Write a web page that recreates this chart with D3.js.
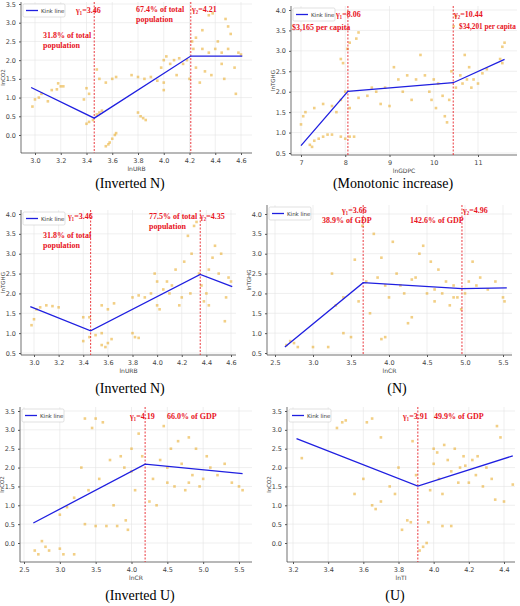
<!DOCTYPE html>
<html><head><meta charset="utf-8">
<script src="https://cdn.jsdelivr.net/npm/d3@7"></script>
<style>body{margin:0;background:#fff}</style></head>
<body><svg id="c" width="520" height="606"></svg>
<script>
// ---- data ----
const pointsA=[[2.98,0.76],[3.0,0.95],[3.03,1.0],[3.05,1.1],[3.1,0.9],[3.13,1.2],[3.17,1.22],[3.2,1.3],[3.18,1.38],[3.22,1.3],[3.38,0.95],[3.4,1.25],[3.42,1.1],[3.4,0.3],[3.42,0.35],[3.45,0.4],[3.48,0.55],[3.5,0.6],[3.52,0.65],[3.48,1.75],[3.5,1.5],[3.55,1.4],[3.6,1.5],[3.63,1.55],[3.55,-0.3],[3.57,-0.25],[3.58,-0.2],[3.6,-0.1],[3.62,0.0],[3.63,0.05],[3.8,0.6],[3.82,0.5],[3.84,0.45],[3.86,0.4],[3.75,1.6],[3.8,1.55],[3.85,1.5],[3.9,1.55],[3.95,1.45],[3.98,1.8],[4.0,2.0],[4.0,1.2],[4.0,1.4],[4.02,2.1],[4.05,1.9],[4.08,2.0],[4.1,1.6],[4.12,2.05],[4.15,1.9],[4.18,2.0],[4.2,1.5],[4.22,2.5],[4.23,2.3],[4.25,1.8],[4.28,1.4],[4.3,2.3],[4.32,1.7],[4.35,2.2],[4.35,3.2],[4.37,1.6],[4.38,3.25],[4.4,2.3],[4.42,2.5],[4.45,2.2],[4.47,1.5],[4.48,3.1],[4.5,2.9],[4.5,2.3],[4.52,2.7],[4.55,1.8],[4.56,1.1],[4.58,2.2],[4.6,2.15],[4.3,2.8],[4.25,2.6],[4.45,1.9]];
const pointsB=[[7.0,1.2],[7.05,1.4],[7.1,1.5],[7.2,0.7],[7.25,0.65],[7.3,0.8],[7.4,0.85],[7.5,0.9],[7.6,0.95],[7.7,0.95],[7.9,0.9],[8.0,0.85],[8.1,0.9],[8.2,0.9],[7.3,1.6],[7.5,1.7],[7.7,1.65],[7.8,1.5],[7.9,1.8],[8.0,2.0],[7.9,2.8],[7.95,2.7],[8.05,3.05],[8.1,3.2],[8.25,3.3],[8.3,3.45],[8.1,1.6],[8.3,1.85],[8.5,1.9],[8.6,2.1],[8.7,2.0],[8.8,1.7],[8.9,2.1],[9.0,1.65],[9.1,2.6],[9.2,2.3],[9.3,2.0],[9.4,2.4],[9.5,1.8],[9.6,2.3],[9.7,2.9],[9.8,2.4],[9.9,2.0],[9.95,1.8],[10.0,2.3],[10.05,1.6],[10.1,2.2],[10.2,1.9],[10.25,1.4],[10.3,1.25],[10.35,1.8],[10.4,2.5],[10.45,3.6],[10.5,3.85],[10.5,2.1],[10.6,2.4],[10.65,2.2],[10.7,2.9],[10.75,2.3],[10.8,2.6],[10.85,2.1],[10.9,2.3],[11.0,2.2],[11.1,2.45],[11.2,2.55],[11.5,2.8],[11.55,3.1],[11.6,3.2],[11.55,2.7]];
const pointsC=[[2.98,1.2],[3.0,1.35],[3.02,1.6],[3.05,1.65],[3.1,1.7],[3.15,1.68],[3.2,1.65],[3.4,1.4],[3.45,1.4],[3.4,0.8],[3.45,0.9],[3.5,0.95],[3.55,1.0],[3.55,0.7],[3.58,0.65],[3.6,0.75],[3.63,0.85],[3.55,1.7],[3.6,1.6],[3.65,1.75],[3.8,1.0],[3.82,0.9],[3.85,0.88],[3.8,1.9],[3.85,1.95],[3.9,1.9],[3.95,2.0],[3.98,2.5],[4.0,2.3],[4.0,1.7],[4.02,1.6],[4.05,2.1],[4.08,2.3],[4.1,2.0],[4.12,2.2],[4.15,2.6],[4.18,1.7],[4.2,1.9],[4.22,2.8],[4.25,3.45],[4.27,2.0],[4.28,3.0],[4.3,3.7],[4.32,3.8],[4.34,2.5],[4.36,2.2],[4.38,1.8],[4.4,2.0],[4.42,2.6],[4.45,2.9],[4.47,3.2],[4.5,2.5],[4.52,3.0],[4.55,1.3],[4.56,1.9],[4.58,2.4],[4.6,2.3],[4.42,1.7]];
const pointsD=[[2.65,0.7],[2.7,0.8],[2.75,0.75],[2.8,0.65],[3.0,0.65],[3.2,0.65],[3.25,2.5],[3.3,1.7],[3.4,1.9],[3.4,1.0],[3.5,0.9],[3.55,2.85],[3.6,1.8],[3.65,3.7],[3.7,2.3],[3.75,1.5],[3.8,3.5],[3.85,2.4],[3.9,2.9],[3.9,0.85],[3.95,0.9],[4.0,1.9],[4.05,3.3],[4.1,2.5],[4.15,2.2],[4.2,2.0],[4.25,1.25],[4.3,1.4],[4.35,2.4],[4.4,3.0],[4.45,3.2],[4.5,2.0],[4.55,2.8],[4.6,1.8],[4.65,2.6],[4.7,2.0],[4.75,2.3],[4.8,1.7],[4.85,2.2],[4.9,1.9],[4.95,1.6],[5.0,2.0],[5.05,2.3],[5.1,2.8],[5.15,2.2],[5.2,2.4],[5.3,2.1],[5.4,2.3],[5.5,1.9],[5.52,1.8],[3.95,2.2],[4.3,2.35],[4.6,2.1],[4.85,1.9]];
const pointsE=[[2.65,-0.2],[2.7,-0.3],[2.75,0.05],[2.8,-0.1],[2.85,-0.2],[3.0,-0.15],[3.05,-0.3],[3.2,-0.3],[3.0,0.75],[3.1,0.95],[3.2,1.2],[3.3,2.0],[3.35,3.3],[3.35,0.5],[3.4,1.4],[3.45,3.05],[3.5,3.3],[3.5,0.45],[3.55,1.7],[3.6,3.2],[3.65,0.45],[3.7,2.2],[3.75,1.0],[3.8,0.45],[3.85,2.3],[3.9,2.0],[3.92,0.6],[3.95,0.35],[4.0,2.5],[4.05,1.4],[4.1,2.9],[4.15,2.3],[4.25,1.1],[4.3,1.7],[4.35,1.0],[4.4,2.2],[4.45,3.1],[4.5,1.6],[4.55,2.5],[4.6,1.5],[4.65,2.7],[4.7,2.1],[4.75,1.4],[4.8,2.8],[4.85,1.8],[4.9,2.5],[4.95,1.5],[5.0,1.7],[5.05,2.3],[5.1,2.0],[5.2,1.8],[5.3,2.1],[5.4,1.6],[5.5,1.5],[5.55,1.4],[4.0,1.9],[4.5,2.0],[4.8,1.6]];
const pointsF=[[3.25,2.25],[3.45,3.05],[3.48,3.2],[3.5,3.25],[3.55,1.3],[3.6,1.7],[3.62,3.2],[3.65,3.3],[3.65,1.0],[3.67,0.9],[3.7,1.1],[3.7,2.8],[3.75,1.5],[3.78,1.3],[3.8,2.0],[3.82,0.35],[3.85,0.6],[3.87,0.55],[3.88,2.7],[3.9,1.8],[3.92,-0.2],[3.94,-0.1],[3.96,0.0],[3.97,0.55],[3.98,1.4],[4.0,2.1],[4.02,2.4],[4.03,1.7],[4.05,0.45],[4.06,2.6],[4.08,2.2],[4.1,0.45],[4.1,1.9],[4.12,2.5],[4.14,1.6],[4.15,2.0],[4.17,2.3],[4.2,1.6],[4.22,2.2],[4.24,1.8],[4.25,2.3],[4.28,1.5],[4.3,2.0],[4.33,1.7],[4.35,1.15],[4.36,3.1],[4.38,2.8],[4.4,1.1],[4.45,1.55],[4.0,2.5],[4.18,2.05],[4.05,1.3]];
const kinkA=[[2.97,1.27],[3.46,0.45],[4.21,2.11],[4.61,2.11]];
const kinkB=[[7,0.68],[8.06,2.01],[10.44,2.22],[11.6,2.79]];
const kinkC=[[2.97,1.67],[3.46,1.06],[4.35,2.48],[4.61,2.17]];
const kinkD=[[2.63,0.65],[3.66,2.27],[4.96,2.12],[5.55,2.14]];
const kinkE=[[2.63,0.53],[4.19,2.09],[5.55,1.84]];
const kinkF=[[3.22,2.77],[3.91,1.51],[4.45,2.31]];
const thresholdsA=[3.46,4.21], thresholdsB=[8.06,10.44], thresholdsC=[3.46,4.35], thresholdsD=[3.66,4.96], thresholdsE=[4.19], thresholdsF=[3.91];
const ticksXA=[3.0,3.2,3.4,3.6,3.8,4.0,4.2,4.4,4.6], ticksXB=[7,8,9,10,11], ticksXD=[2.5,3.0,3.5,4.0,4.5,5.0,5.5], ticksXF=[3.2,3.4,3.6,3.8,4.0,4.2,4.4];
const ticksYCO2=[0.0,0.5,1.0,1.5,2.0,2.5,3.0,3.5], ticksYTGHG=[0.5,1.0,1.5,2.0,2.5,3.0,3.5,4.0];
const captions=["(Inverted N)","(Monotonic increase)","(Inverted N)","(N)","(Inverted U)","(U)"];

// ---- layout ----
const panels=[
 {pts:pointsA,kink:kinkA,thr:thresholdsA,tx:ticksXA,ty:ticksYCO2,xl:"lnURB",yl:"lnCO2",fmt:".1f",
  px:[21,252],py:[2,153],xd:[3.0,4.6],xr:[35,241],yd:[0,3.5],yr:[135,4],cap:[130,188],
  notes:[[76,13,"γ₁=3.46",8],[43,38,"31.8%  of  total",8],[43,48,"population",8],[136,12,"67.4%  of  total",8],[136,22,"population",8],[192,12,"γ₂=4.21",8]]},
 {pts:pointsB,kink:kinkB,thr:thresholdsB,tx:ticksXB,ty:ticksYTGHG,xl:"lnGDPC",yl:"lnTGHG",fmt:"d",
  px:[291,517],py:[6,155],xd:[7,11],xr:[301,478],yd:[0.5,4.0],yr:[153,10],cap:[393,188],
  notes:[[336,17,"γ₁=8.06",8],[292,30,"$3,165 per capita",8],[454,17,"γ₂=10.44",8],[459,29,"$34,201 per capita",7.3]]},
 {pts:pointsC,kink:kinkC,thr:thresholdsC,tx:ticksXA,ty:ticksYTGHG,xl:"lnURB",yl:"lnTGHG",fmt:".1f",
  px:[21,236],py:[210,355],xd:[3.0,4.6],xr:[34,231],yd:[0.5,4.0],yr:[353,214],cap:[130,393],
  notes:[[68,219,"γ₁=3.46",8],[43,238,"31.8%  of  total",8],[43,248,"population",8],[149,219,"77.5%  of  total",8],[149,229,"population",8],[200,219,"γ₂=4.35",8]]},
 {pts:pointsD,kink:kinkD,thr:thresholdsD,tx:ticksXD,ty:ticksYTGHG,xl:"lnCR",yl:"lnTGHG",fmt:".1f",
  px:[267,512],py:[205,355],xd:[2.5,5.5],xr:[275,503],yd:[0.5,4.0],yr:[353,214],cap:[397,393],
  notes:[[342,213,"γ₁=3.66",8],[322,223,"38.9% of GDP",8],[410,223,"142.6% of GDP",8],[463,213,"γ₂=4.96",8]]},
 {pts:pointsE,kink:kinkE,thr:thresholdsE,tx:ticksXD,ty:ticksYCO2,xl:"lnCR",yl:"lnCO2",fmt:".1f",
  px:[20,252],py:[407,562],xd:[2.5,5.5],xr:[24,239],yd:[0,3.5],yr:[543,411],cap:[140,600],
  notes:[[130,419,"γ₁=4.19",8],[167,419,"66.0% of GDP",8]]},
 {pts:pointsF,kink:kinkF,thr:thresholdsF,tx:ticksXF,ty:ticksYCO2,xl:"lnTI",yl:"lnCO2",fmt:".1f",
  px:[287,515],py:[407,562],xd:[3.2,4.4],xr:[293,504],yd:[0,3.5],yr:[543,411],cap:[395,600],
  notes:[[403,419,"γ₁=3.91",8],[434,419,"49.9% of GDP",8]]}
];

const svg=d3.select("#c");
panels.forEach((p,i)=>{
  const x=d3.scaleLinear().domain(p.xd).range(p.xr);
  const y=d3.scaleLinear().domain(p.yd).range(p.yr);
  const g=svg.append("g");
  const clip="clip"+i;
  svg.append("clipPath").attr("id",clip).append("rect").attr("x",p.px[0]).attr("y",p.py[0]).attr("width",p.px[1]-p.px[0]).attr("height",p.py[1]-p.py[0]);
  g.selectAll(".gx").data(p.tx).join("line").attr("x1",d=>x(d)).attr("x2",d=>x(d)).attr("y1",p.py[0]).attr("y2",p.py[1]).attr("stroke","#e4e4e4").attr("stroke-width",0.6);
  g.selectAll(".gy").data(p.ty).join("line").attr("y1",d=>y(d)).attr("y2",d=>y(d)).attr("x1",p.px[0]).attr("x2",p.px[1]).attr("stroke","#e4e4e4").attr("stroke-width",0.6);
  const xa=g.append("g").attr("transform",`translate(0,${p.py[1]})`).call(d3.axisBottom(x).tickValues(p.tx).tickFormat(d3.format(p.fmt)).tickSize(2).tickSizeOuter(0));
  const ya=g.append("g").attr("transform",`translate(${p.px[0]},0)`).call(d3.axisLeft(y).tickValues(p.ty).tickFormat(d3.format(".1f")).tickSize(2).tickSizeOuter(0));
  [xa,ya].forEach(a=>{a.selectAll("text").attr("font-family","DejaVu Sans").attr("font-size",6.5).attr("fill","#444");a.select(".domain").attr("stroke","#333").attr("stroke-width",0.7);a.selectAll(".tick line").attr("stroke","#555");});
  xa.select(".domain").attr("d",`M${p.px[0]},0H${p.px[1]}`);
  ya.select(".domain").attr("d",`M0,${p.py[0]}V${p.py[1]}`);
  g.append("text").attr("x",(p.px[0]+p.px[1])/2).attr("y",p.py[1]+18).attr("text-anchor","middle").attr("font-family","DejaVu Sans").attr("font-size",6).attr("fill","#444").text(p.xl);
  g.append("text").attr("transform",`translate(${p.px[0]-16.5},${(p.py[0]+p.py[1])/2}) rotate(-90)`).attr("text-anchor","middle").attr("font-family","DejaVu Sans").attr("font-size",5.5).attr("fill","#444").text(p.yl);
  const inner=g.append("g").attr("clip-path",`url(#${clip})`);
  inner.selectAll("rect.pt").data(p.pts).join("rect").attr("x",d=>x(d[0])-1.3).attr("y",d=>y(d[1])-1.3).attr("width",2.6).attr("height",2.6).attr("fill","#e8a820").attr("opacity",0.55);
  inner.selectAll("line.th").data(p.thr).join("line").attr("x1",d=>x(d)).attr("x2",d=>x(d)).attr("y1",p.py[0]).attr("y2",p.py[1]).attr("stroke","#e8242a").attr("stroke-width",0.9).attr("stroke-dasharray","2,1.5");
  inner.append("path").datum(p.kink).attr("d",d3.line().x(d=>x(d[0])).y(d=>y(d[1]))).attr("fill","none").attr("stroke","#1f1fe0").attr("stroke-width",1.3);
  p.notes.forEach(n=>g.append("text").attr("x",n[0]).attr("y",n[1]).attr("font-family","Liberation Serif").attr("font-weight","bold").attr("font-size",n[3]).attr("fill","#e8141e").text(n[2]));
  const lg=g.append("g").attr("transform",`translate(${p.px[0]+2},${p.py[0]+2})`);
  lg.append("rect").attr("width",42).attr("height",13).attr("rx",1.5).attr("fill","#fff").attr("fill-opacity",0.9).attr("stroke","#ccc").attr("stroke-width",0.6);
  lg.append("line").attr("x1",3).attr("x2",15).attr("y1",6.5).attr("y2",6.5).attr("stroke","#1f1fe0").attr("stroke-width",1.3);
  lg.append("text").attr("x",18).attr("y",8.8).attr("font-family","DejaVu Sans").attr("font-size",5.5).attr("fill","#333").text("Kink line");
  svg.append("text").attr("x",p.cap[0]).attr("y",p.cap[1]).attr("text-anchor","middle").attr("font-family","Liberation Serif").attr("font-size",14).attr("fill","#000").text(captions[i]);
});
</script></body></html>
